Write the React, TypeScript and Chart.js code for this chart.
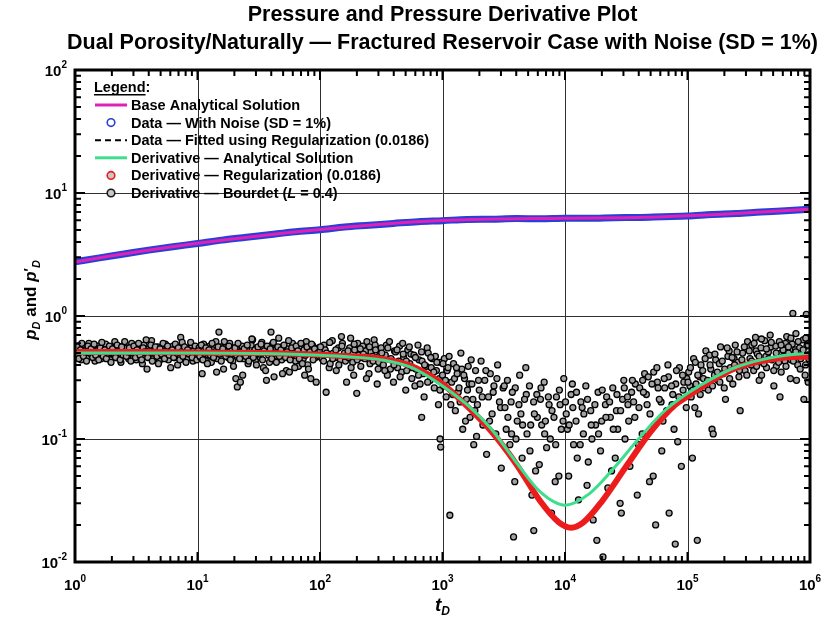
import { useEffect, useRef } from 'react';
import { Chart, registerables } from 'chart.js';

Chart.register(...registerables);

const FONT = '"Liberation Sans", Arial, Helvetica, sans-serif';

const titleLines = [
  'Pressure and Pressure Derivative Plot',
  'Dual Porosity/Naturally — Fractured Reservoir Case with Noise (SD = 1%)',
];
const xTickExponents = [0, 1, 2, 3, 4, 5, 6];
const yTickExponents = [-2, -1, 0, 1, 2];

const legendLabels = [
  'Base Analytical Solution',
  'Data — With Noise (SD = 1%)',
  'Data — Fitted using Regularization (0.0186)',
  'Derivative — Analytical Solution',
  'Derivative — Regularization (0.0186)',
  'Derivative — Bourdet (L = 0.4)',
];

// log10(tD) sample positions and values
const pressureLogT = [0, 0.25, 0.5, 0.75, 1, 1.25, 1.5, 1.75, 2, 2.25, 2.5, 2.75, 3, 3.25, 3.5, 3.75, 4, 4.25, 4.5, 4.75, 5, 5.25, 5.5, 5.75, 6];
const basePressure = [2.75, 3.03, 3.32, 3.61, 3.9, 4.19, 4.48, 4.77, 5.05, 5.32, 5.57, 5.8, 5.98, 6.1, 6.16, 6.2, 6.22, 6.25, 6.3, 6.39, 6.52, 6.7, 6.9, 7.13, 7.38];
const fittedPressure = [2.75, 3.03, 3.32, 3.61, 3.9, 4.19, 4.48, 4.77, 5.05, 5.32, 5.57, 5.8, 5.98, 6.1, 6.16, 6.2, 6.22, 6.25, 6.3, 6.39, 6.52, 6.7, 6.9, 7.13, 7.38];

const noisyLogT = [0, 0.2, 0.4, 0.6, 0.8, 1, 1.2, 1.4, 1.6, 1.8, 2, 2.2, 2.4, 2.6, 2.8, 3, 3.2, 3.4, 3.6, 3.8, 4, 4.2, 4.4, 4.6, 4.8, 5, 5.2, 5.4, 5.6, 5.8, 6];
const noisyPressure = [2.76, 2.97, 3.19, 3.43, 3.66, 3.88, 4.14, 4.36, 4.6, 4.84, 5.03, 5.29, 5.47, 5.66, 5.85, 5.96, 6.1, 6.13, 6.19, 6.18, 6.24, 6.22, 6.3, 6.33, 6.42, 6.5, 6.68, 6.8, 7.0, 7.17, 7.4];

const derivLogT = [0, 0.5, 1, 1.5, 2, 2.25, 2.5, 2.75, 3, 3.2, 3.4, 3.6, 3.8, 4, 4.2, 4.4, 4.6, 4.8, 5, 5.2, 5.4, 5.6, 5.8, 6];
const derivAnalytical = [0.5, 0.5, 0.5, 0.495, 0.48, 0.465, 0.44, 0.38, 0.27, 0.19, 0.12, 0.065, 0.037, 0.029, 0.036, 0.058, 0.1, 0.165, 0.235, 0.31, 0.385, 0.44, 0.48, 0.5];

const regLogT = [0, 0.5, 1, 1.5, 2, 2.25, 2.5, 2.75, 3, 3.2, 3.4, 3.6, 3.8, 3.95, 4.05, 4.15, 4.3, 4.5, 4.7, 4.9, 5, 5.2, 5.4, 5.6, 5.8, 6];
const derivRegularized = [0.51, 0.51, 0.505, 0.5, 0.485, 0.47, 0.45, 0.39, 0.28, 0.185, 0.115, 0.063, 0.031, 0.021, 0.019, 0.021, 0.031, 0.06, 0.115, 0.19, 0.222, 0.3, 0.38, 0.43, 0.46, 0.467];

// Bourdet derivative of noisy data: [log10(tD), p'D]
const bourdetPoints: [number, number][] = [
  [0,0.52],[0.013,0.47],[0.025,0.55],[0.038,0.50],[0.05,0.44],[0.063,0.58],[0.075,0.49],[0.088,0.53],[0.1,0.46],[0.113,0.60],
  [0.125,0.51],[0.138,0.48],[0.15,0.56],[0.163,0.43],[0.175,0.52],[0.188,0.57],[0.2,0.49],[0.213,0.45],[0.225,0.54],[0.238,0.50],
  [0.25,0.59],[0.263,0.47],[0.275,0.52],[0.288,0.44],[0.3,0.55],[0.313,0.49],[0.325,0.62],[0.338,0.46],[0.35,0.51],[0.363,0.53],
  [0.375,0.42],[0.388,0.57],[0.4,0.50],[0.413,0.48],[0.425,0.55],[0.438,0.45],[0.45,0.52],[0.463,0.60],[0.475,0.47],[0.488,0.51],
  [0.5,0.44],[0.513,0.56],[0.525,0.49],[0.538,0.53],[0.55,0.41],[0.563,0.58],[0.575,0.50],[0.588,0.37],[0.6,0.54],[0.613,0.48],
  [0.625,0.63],[0.638,0.45],[0.65,0.52],[0.663,0.49],[0.675,0.56],[0.688,0.43],[0.7,0.51],[0.713,0.55],[0.725,0.47],[0.738,0.59],
  [0.75,0.50],[0.763,0.44],[0.775,0.53],[0.788,0.48],[0.8,0.57],[0.813,0.46],[0.825,0.52],[0.838,0.40],[0.85,0.55],[0.863,0.67],
  [0.875,0.61],[0.888,0.47],[0.9,0.51],[0.913,0.45],[0.925,0.54],[0.938,0.50],[0.95,0.58],[0.963,0.43],[0.975,0.52],[0.988,0.48],
  [0.006,0.49],[0.019,0.56],[0.031,0.45],[0.044,0.53],[0.056,0.60],[0.069,0.47],[0.081,0.51],[0.094,0.43],[0.106,0.57],[0.119,0.50],
  [0.131,0.54],[0.144,0.46],[0.156,0.59],[0.169,0.48],[0.181,0.52],[0.194,0.44],[0.206,0.55],[0.219,0.61],[0.231,0.47],[0.244,0.53],
  [0.256,0.45],[0.269,0.50],[0.281,0.57],[0.294,0.42],[0.306,0.54],[0.319,0.49],[0.331,0.46],[0.344,0.58],[0.356,0.52],[0.369,0.44],
  [0.381,0.56],[0.394,0.48],[0.406,0.62],[0.419,0.47],[0.431,0.51],[0.444,0.55],[0.456,0.43],[0.469,0.50],[0.481,0.57],[0.494,0.46],
  [0.506,0.53],[0.519,0.60],[0.531,0.48],[0.544,0.44],[0.556,0.55],[0.569,0.51],[0.581,0.64],[0.594,0.46],[0.606,0.52],[0.619,0.58],
  [0.631,0.43],[0.644,0.50],[0.656,0.56],[0.669,0.47],[0.681,0.41],[0.694,0.54],[0.706,0.49],[0.719,0.60],[0.731,0.45],[0.744,0.52],
  [0.756,0.57],[0.769,0.48],[0.781,0.38],[0.794,0.53],[0.806,0.46],[0.819,0.59],[0.831,0.50],[0.844,0.55],[0.856,0.44],[0.869,0.51],
  [0.881,0.47],[0.894,0.56],[0.906,0.42],[0.919,0.53],[0.931,0.49],[0.944,0.61],[0.956,0.46],[0.969,0.52],[0.981,0.57],[0.994,0.44],
  [1,0.50],[1.013,0.55],[1.025,0.46],[1.038,0.34],[1.05,0.59],[1.063,0.44],[1.075,0.51],[1.088,0.48],[1.1,0.57],[1.113,0.42],
  [1.125,0.53],[1.138,0.49],[1.15,0.62],[1.163,0.45],[1.175,0.74],[1.188,0.56],[1.2,0.47],[1.213,0.37],[1.225,0.54],[1.238,0.51],
  [1.25,0.46],[1.263,0.60],[1.275,0.49],[1.288,0.43],[1.3,0.55],[1.313,0.31],[1.325,0.265],[1.338,0.52],[1.35,0.29],[1.363,0.57],
  [1.375,0.45],[1.388,0.50],[1.4,0.53],[1.413,0.41],[1.425,0.47],[1.438,0.58],[1.45,0.64],[1.463,0.51],[1.475,0.44],[1.488,0.55],
  [1.5,0.49],[1.513,0.46],[1.525,0.61],[1.538,0.38],[1.55,0.52],[1.563,0.30],[1.575,0.56],[1.588,0.42],[1.6,0.74],[1.613,0.59],
  [1.625,0.32],[1.638,0.53],[1.65,0.47],[1.663,0.66],[1.675,0.51],[1.688,0.44],[1.7,0.57],[1.713,0.49],[1.725,0.36],[1.738,0.54],
  [1.75,0.35],[1.763,0.46],[1.775,0.60],[1.788,0.50],[1.8,0.43],[1.813,0.52],[1.825,0.39],[1.838,0.56],[1.85,0.48],[1.863,0.45],
  [1.875,0.33],[1.888,0.62],[1.9,0.40],[1.913,0.53],[1.925,0.31],[1.938,0.58],[1.95,0.47],[1.963,0.46],[1.975,0.51],[1.988,0.55],
  [1.006,0.52],[1.019,0.47],[1.031,0.58],[1.044,0.44],[1.056,0.50],[1.069,0.55],[1.081,0.41],[1.094,0.53],[1.106,0.48],[1.119,0.60],
  [1.131,0.46],[1.144,0.51],[1.156,0.35],[1.169,0.56],[1.181,0.49],[1.194,0.43],[1.206,0.54],[1.219,0.62],[1.231,0.47],[1.244,0.50],
  [1.256,0.57],[1.269,0.44],[1.281,0.52],[1.294,0.39],[1.306,0.55],[1.319,0.48],[1.331,0.60],[1.344,0.45],[1.356,0.51],[1.369,0.33],
  [1.381,0.54],[1.394,0.47],[1.406,0.58],[1.419,0.43],[1.431,0.50],[1.444,0.65],[1.456,0.46],[1.469,0.53],[1.481,0.40],[1.494,0.56],
  [1.506,0.49],[1.519,0.59],[1.531,0.44],[1.544,0.52],[1.556,0.36],[1.569,0.57],[1.581,0.48],[1.594,0.54],[1.606,0.45],[1.619,0.61],
  [1.631,0.50],[1.644,0.42],[1.656,0.56],[1.669,0.47],[1.681,0.53],[1.694,0.34],[1.706,0.58],[1.719,0.46],[1.731,0.51],[1.744,0.63],
  [1.756,0.44],[1.769,0.55],[1.781,0.49],[1.794,0.38],[1.806,0.57],[1.819,0.52],[1.831,0.45],[1.844,0.60],[1.856,0.41],[1.869,0.53],
  [1.881,0.48],[1.894,0.56],[1.906,0.37],[1.919,0.51],[1.931,0.59],[1.944,0.44],[1.956,0.54],[1.969,0.29],[1.981,0.50],[1.994,0.47],
  [2,0.52],[2.008,0.48],[2.017,0.45],[2.033,0.58],[2.042,0.53],[2.05,0.24],[2.067,0.49],[2.075,0.38],[2.083,0.41],[2.1,0.63],
  [2.108,0.50],[2.117,0.47],[2.133,0.36],[2.142,0.46],[2.15,0.55],[2.167,0.44],[2.175,0.68],[2.183,0.60],[2.2,0.50],[2.208,0.43],
  [2.217,0.29],[2.233,0.46],[2.242,0.55],[2.25,0.66],[2.267,0.42],[2.275,0.33],[2.283,0.53],[2.3,0.235],[2.308,0.60],[2.317,0.48],
  [2.333,0.39],[2.342,0.46],[2.35,0.57],[2.367,0.45],[2.375,0.52],[2.383,0.62],[2.4,0.34],[2.408,0.41],[2.417,0.51],[2.433,0.43],
  [2.442,0.64],[2.45,0.58],[2.467,0.28],[2.475,0.37],[2.483,0.47],
  [2.004,0.56],[2.029,0.43],[2.054,0.50],[2.079,0.61],[2.104,0.45],[2.129,0.53],[2.154,0.40],[2.179,0.57],[2.204,0.47],[2.229,0.52],
  [2.254,0.38],[2.279,0.59],[2.304,0.44],[2.329,0.54],[2.354,0.49],[2.379,0.31],[2.404,0.56],[2.429,0.47],[2.454,0.53],[2.479,0.42],
  [2.5,0.55],[2.508,0.47],[2.517,0.40],[2.533,0.48],[2.542,0.58],[2.55,0.33],[2.567,0.62],[2.575,0.37],[2.583,0.44],[2.6,0.29],
  [2.608,0.52],[2.617,0.51],[2.633,0.38],[2.642,0.43],[2.65,0.57],[2.667,0.35],[2.675,0.60],[2.683,0.46],[2.7,0.25],[2.708,0.36],
  [2.717,0.53],[2.733,0.41],[2.742,0.49],[2.75,0.31],[2.767,0.48],[2.775,0.27],[2.783,0.37],[2.8,0.58],[2.808,0.44],[2.817,0.28],
  [2.83,0.15],[2.833,0.43],[2.842,0.34],[2.85,0.22],[2.867,0.39],[2.875,0.55],[2.883,0.50],[2.9,0.30],[2.908,0.38],[2.917,0.45],
  [2.933,0.26],[2.942,0.47],[2.95,0.36],[2.967,0.19],[2.975,0.31],[2.98,0.10],[2.983,0.42],[2.985,0.086],
  [2.504,0.50],[2.529,0.36],[2.554,0.55],[2.579,0.45],[2.604,0.40],[2.629,0.53],[2.654,0.32],[2.679,0.49],[2.704,0.43],[2.729,0.56],
  [2.754,0.38],[2.779,0.46],[2.804,0.33],[2.829,0.51],[2.854,0.40],[2.879,0.29],[2.904,0.46],[2.929,0.35],[2.954,0.42],[2.979,0.25],
  [3,0.33],[3.008,0.27],[3.015,0.45],[3.03,0.22],[3.038,0.36],[3.045,0.38],[3.06,0.024],[3.068,0.19],[3.075,0.29],[3.09,0.41],
  [3.098,0.31],[3.105,0.17],[3.12,0.34],[3.128,0.24],[3.135,0.26],[3.15,0.50],[3.158,0.37],[3.165,0.12],[3.18,0.31],[3.188,0.14],
  [3.195,0.21],[3.21,0.39],[3.218,0.28],[3.225,0.15],[3.24,0.28],[3.248,0.21],[3.255,0.09],[3.27,0.36],[3.278,0.105],[3.285,0.19],
  [3.3,0.25],[3.315,0.43],[3.33,0.13],[3.345,0.30],[3.36,0.075],[3.375,0.22],[3.39,0.34],[3.405,0.16],[3.42,0.27],[3.435,0.11],
  [3.45,0.40],[3.465,0.20],[3.48,0.058],[3.495,0.26],
  [3.004,0.41],[3.024,0.30],[3.054,0.47],[3.084,0.23],[3.114,0.38],[3.144,0.20],[3.174,0.33],[3.204,0.25],[3.234,0.44],[3.264,0.17],
  [3.294,0.30],[3.324,0.22],[3.354,0.36],[3.384,0.14],[3.414,0.24],[3.444,0.31],[3.474,0.18],[3.504,0.27],[3.534,0.15],[3.564,0.11],
  [3.594,0.26],[3.624,0.19],[3.654,0.13],[3.684,0.23],[3.714,0.08],[3.744,0.20],[3.774,0.15],[3.804,0.26],[3.834,0.11],[3.864,0.22],
  [3.894,0.17],[3.924,0.09],[3.954,0.25],[3.984,0.14],
  [3.51,0.18],[3.52,0.12],[3.53,0.30],[3.55,0.09],[3.56,0.20],[3.57,0.24],[3.58,0.016],[3.59,0.045],[3.6,0.10],[3.61,0.14],
  [3.63,0.33],[3.64,0.16],[3.65,0.07],[3.67,0.21],[3.68,0.38],[3.69,0.11],[3.71,0.27],[3.72,0.13],[3.73,0.035],[3.745,0.018],
  [3.75,0.16],[3.76,0.055],[3.77,0.23],[3.79,0.062],[3.8,0.21],[3.81,0.13],[3.83,0.29],[3.84,0.14],[3.85,0.085],[3.87,0.19],
  [3.88,0.10],[3.89,0.025],[3.91,0.15],[3.92,0.045],[3.93,0.22],[3.95,0.05],[3.96,0.19],[3.97,0.12],[3.99,0.31],
  [4.01,0.16],[4.02,0.12],[4.03,0.05],[4.05,0.23],[4.06,0.28],[4.07,0.09],[4.09,0.14],[4.1,0.07],[4.11,0.032],[4.13,0.20],
  [4.14,0.18],[4.15,0.11],[4.17,0.27],[4.18,0.042],[4.19,0.065],[4.21,0.17],[4.22,0.10],[4.23,0.022],[4.25,0.13],[4.26,0.015],
  [4.27,0.24],[4.29,0.08],[4.3,0.14],[4.31,0.011],[4.33,0.19],[4.34,0.22],[4.35,0.04],[4.37,0.15],[4.38,0.055],[4.39,0.26],
  [4.41,0.07],[4.42,0.17],[4.43,0.12],[4.45,0.03],[4.46,0.025],[4.47,0.21],[4.48,0.30],[4.49,0.10],
  [4.004,0.20],[4.034,0.13],[4.064,0.18],[4.094,0.24],[4.124,0.09],[4.154,0.16],[4.184,0.21],[4.214,0.13],[4.244,0.19],[4.274,0.11],
  [4.304,0.25],[4.334,0.15],[4.364,0.20],[4.394,0.12],[4.424,0.23],[4.454,0.17],[4.484,0.26],[4.514,0.19],[4.544,0.24],[4.574,0.28],
  [4.604,0.18],[4.634,0.30],[4.664,0.23],[4.694,0.16],[4.724,0.35],[4.754,0.29],[4.784,0.20],[4.814,0.26],[4.844,0.32],[4.874,0.19],
  [4.904,0.28],[4.934,0.38],[4.964,0.25],[4.994,0.31],
  [4.51,0.22],[4.52,0.14],[4.53,0.06],[4.55,0.30],[4.56,0.20],[4.57,0.15],[4.59,0.035],[4.6,0.09],[4.61,0.26],[4.63,0.11],
  [4.64,0.24],[4.65,0.34],[4.67,0.19],[4.68,0.32],[4.69,0.045],[4.71,0.28],[4.72,0.05],[4.73,0.13],[4.74,0.02],[4.75,0.38],
  [4.76,0.26],[4.77,0.21],[4.79,0.08],[4.8,0.14],[4.81,0.31],[4.83,0.17],[4.84,0.40],[4.85,0.025],[4.87,0.27],[4.88,0.23],
  [4.89,0.12],[4.9,0.014],[4.91,0.36],[4.92,0.095],[4.93,0.22],[4.95,0.06],[4.96,0.33],[4.97,0.29],[4.99,0.18],
  [5.01,0.35],[5.02,0.27],[5.03,0.22],[5.04,0.07],[5.05,0.45],[5.06,0.18],[5.07,0.28],[5.08,0.015],[5.09,0.16],[5.1,0.32],
  [5.11,0.40],[5.13,0.31],[5.14,0.26],[5.15,0.52],[5.17,0.25],[5.18,0.48],[5.19,0.37],[5.2,0.12],[5.21,0.11],[5.22,0.33],
  [5.23,0.44],[5.25,0.30],[5.26,0.41],[5.27,0.56],[5.29,0.34],[5.3,0.26],[5.31,0.21],[5.33,0.47],[5.34,0.52],[5.35,0.38],
  [5.37,0.28],[5.38,0.45],[5.39,0.58],[5.41,0.42],[5.42,0.32],[5.43,0.17],[5.45,0.50],[5.46,0.40],[5.47,0.36],[5.49,0.62],
  [5.004,0.29],[5.024,0.38],[5.044,0.25],[5.064,0.42],[5.084,0.33],[5.104,0.23],[5.124,0.36],[5.144,0.45],[5.164,0.30],[5.184,0.40],
  [5.204,0.27],[5.224,0.49],[5.244,0.35],[5.264,0.29],[5.284,0.43],[5.304,0.37],[5.324,0.55],[5.344,0.31],[5.364,0.46],[5.384,0.40],
  [5.404,0.51],[5.424,0.36],[5.444,0.44],[5.464,0.56],[5.484,0.33],
  [5.51,0.45],[5.52,0.40],[5.525,0.58],[5.54,0.36],[5.555,0.67],[5.56,0.52],[5.57,0.49],[5.585,0.30],[5.6,0.55],[5.605,0.33],
  [5.615,0.42],[5.63,0.63],[5.64,0.47],[5.645,0.38],[5.66,0.51],[5.675,0.70],[5.68,0.56],[5.69,0.44],[5.705,0.27],[5.72,0.57],
  [5.725,0.39],[5.735,0.48],[5.75,0.62],[5.755,0.22],[5.76,0.50],[5.765,0.35],[5.78,0.53],[5.795,0.43],[5.8,0.60],[5.81,0.68],
  [5.825,0.50],[5.84,0.31],[5.845,0.44],[5.855,0.59],[5.86,1.05],[5.87,0.46],[5.88,0.53],[5.885,0.72],[5.89,0.30],[5.9,0.40],
  [5.915,0.55],[5.92,0.37],[5.93,0.48],[5.945,0.64],[5.95,0.21],[5.96,0.33],[5.965,0.66],[5.97,1.03],[5.975,0.57],[5.985,0.29],
  [5.99,0.45],[5.995,0.60],
  [5.504,0.52],[5.524,0.43],[5.544,0.60],[5.564,0.39],[5.584,0.47],[5.604,0.65],[5.624,0.41],[5.644,0.54],[5.664,0.45],[5.684,0.61],
  [5.704,0.36],[5.724,0.50],[5.744,0.42],[5.764,0.58],[5.784,0.47],[5.804,0.39],[5.824,0.56],[5.844,0.66],[5.864,0.43],[5.884,0.51],
  [5.904,0.62],[5.924,0.45],[5.944,0.53],[5.964,0.40],[5.984,0.58],[5.994,0.49],
];

const COLORS = {
  base: '#e021b8',
  noisy: '#2a3fd6',
  fitted: '#000000',
  analytical: '#3ddf8c',
  regularized: '#ec1c1c',
  bourdetBorder: '#000000',
  bourdetFill: '#a2a2a2',
};

const toPts = (lt: number[], v: number[]) => lt.map((l, i) => ({ x: Math.pow(10, l), y: v[i] }));

type Piece = { text: string; font: string; dy?: number };

function piecesWidth(ctx: CanvasRenderingContext2D, pieces: Piece[]) {
  let w = 0;
  for (const p of pieces) {
    ctx.font = p.font;
    w += ctx.measureText(p.text).width;
  }
  return w;
}

function drawPieces(ctx: CanvasRenderingContext2D, pieces: Piece[], x: number, y: number) {
  let cx = x;
  for (const p of pieces) {
    ctx.font = p.font;
    ctx.fillText(p.text, cx, y + (p.dy || 0));
    cx += ctx.measureText(p.text).width;
  }
  return cx;
}

const decorPlugin = {
  id: 'decor',
  beforeDatasetsDraw(chart: any) {
    const { ctx, chartArea: a, scales } = chart;
    ctx.save();
    ctx.strokeStyle = '#303030';
    ctx.lineWidth = 1;
    ctx.beginPath();
    for (const e of xTickExponents) {
      const p = Math.round(scales.x.getPixelForValue(Math.pow(10, e))) + 0.5;
      ctx.moveTo(p, a.top);
      ctx.lineTo(p, a.bottom);
    }
    for (const e of yTickExponents) {
      const p = Math.round(scales.y.getPixelForValue(Math.pow(10, e))) + 0.5;
      ctx.moveTo(a.left, p);
      ctx.lineTo(a.right, p);
    }
    ctx.stroke();
    ctx.restore();
  },
  afterDraw(chart: any) {
    const { ctx, chartArea: a, scales } = chart;
    const xs = scales.x;
    const ys = scales.y;
    ctx.save();
    ctx.fillStyle = '#000';
    ctx.strokeStyle = '#000';
    ctx.textAlign = 'left';
    ctx.textBaseline = 'alphabetic';

    // ticks (inward, all four sides)
    ctx.lineWidth = 2;
    ctx.beginPath();
    const minorLen = 6;
    const majorLen = 10;
    for (let n = xTickExponents[0]; n <= xTickExponents[xTickExponents.length - 1]; n++) {
      for (let k = 1; k <= 9; k++) {
        const v = k * Math.pow(10, n);
        if (v > xs.max * 1.0001) continue;
        const p = xs.getPixelForValue(v);
        const len = k === 1 ? majorLen : minorLen;
        ctx.moveTo(p, a.bottom);
        ctx.lineTo(p, a.bottom - len);
        ctx.moveTo(p, a.top);
        ctx.lineTo(p, a.top + len);
      }
    }
    for (let n = yTickExponents[0]; n <= yTickExponents[yTickExponents.length - 1]; n++) {
      for (let k = 1; k <= 9; k++) {
        const v = k * Math.pow(10, n);
        if (v > ys.max * 1.0001) continue;
        const p = ys.getPixelForValue(v);
        const len = k === 1 ? majorLen : minorLen;
        ctx.moveTo(a.left, p);
        ctx.lineTo(a.left + len, p);
        ctx.moveTo(a.right, p);
        ctx.lineTo(a.right - len, p);
      }
    }
    ctx.stroke();

    // frame
    ctx.lineWidth = 3;
    ctx.strokeRect(a.left, a.top, a.right - a.left, a.bottom - a.top);

    // tick labels
    const baseFont = `bold 15px ${FONT}`;
    const expFont = `bold 10px ${FONT}`;
    for (const e of xTickExponents) {
      const pieces: Piece[] = [
        { text: '10', font: baseFont },
        { text: String(e), font: expFont, dy: -8 },
      ];
      const w = piecesWidth(ctx, pieces);
      const p = xs.getPixelForValue(Math.pow(10, e));
      drawPieces(ctx, pieces, p - w / 2, 590);
    }
    for (const e of yTickExponents) {
      const pieces: Piece[] = [
        { text: '10', font: baseFont },
        { text: String(e), font: expFont, dy: -8 },
      ];
      const w = piecesWidth(ctx, pieces);
      const p = ys.getPixelForValue(Math.pow(10, e));
      drawPieces(ctx, pieces, 67 - w, p + 6);
    }

    // x-axis title
    const xTitle: Piece[] = [
      { text: 't', font: `italic bold 19px ${FONT}` },
      { text: 'D', font: `italic bold 12px ${FONT}`, dy: 4 },
    ];
    const xtw = piecesWidth(ctx, xTitle);
    drawPieces(ctx, xTitle, (a.left + a.right) / 2 - xtw / 2, 611);

    // y-axis title
    const yTitle: Piece[] = [
      { text: 'p', font: `italic bold 17px ${FONT}` },
      { text: 'D', font: `italic bold 11px ${FONT}`, dy: 4 },
      { text: ' and ', font: `bold 17px ${FONT}` },
      { text: 'p', font: `italic bold 17px ${FONT}` },
      { text: '\u2032', font: `bold 14px ${FONT}`, dy: -2 },
      { text: 'D', font: `italic bold 11px ${FONT}`, dy: 4 },
    ];
    const ytw = piecesWidth(ctx, yTitle);
    ctx.save();
    ctx.translate(30, 300);
    ctx.rotate(-Math.PI / 2);
    drawPieces(ctx, yTitle, -ytw / 2, 6);
    ctx.restore();

    // chart title
    ctx.textAlign = 'center';
    ctx.font = `bold 21.5px ${FONT}`;
    const cx = (a.left + a.right) / 2;
    ctx.fillText(titleLines[0], cx, 21);
    ctx.fillText(titleLines[1], cx, 49);
    ctx.textAlign = 'left';

    // legend
    const lx = 94;
    const legendFont = `bold 14.5px ${FONT}`;
    ctx.font = legendFont;
    ctx.fillText('Legend', lx, 92);
    const lw = ctx.measureText('Legend').width;
    ctx.fillText(':', lx + lw, 92);
    ctx.fillRect(lx, 94, lw, 1.5);

    const textX = 131;
    for (let i = 0; i < legendLabels.length; i++) {
      const by = 110 + 17.6 * i;
      const my = by - 5;
      ctx.save();
      if (i === 0 || i === 3) {
        ctx.strokeStyle = i === 0 ? COLORS.base : COLORS.analytical;
        ctx.lineWidth = 3;
        ctx.beginPath();
        ctx.moveTo(95, my);
        ctx.lineTo(127, my);
        ctx.stroke();
      } else if (i === 2) {
        ctx.strokeStyle = COLORS.fitted;
        ctx.lineWidth = 2;
        ctx.setLineDash([6, 4]);
        ctx.beginPath();
        ctx.moveTo(95, my);
        ctx.lineTo(127, my);
        ctx.stroke();
      } else {
        const stroke = i === 1 ? COLORS.noisy : i === 4 ? COLORS.regularized : '#1a1a1a';
        const fill = i === 1 ? '#ffffff' : '#c8c8c8';
        ctx.beginPath();
        ctx.arc(111, my, 3.8, 0, Math.PI * 2);
        ctx.fillStyle = fill;
        ctx.fill();
        ctx.strokeStyle = stroke;
        ctx.lineWidth = 1.6;
        ctx.stroke();
      }
      ctx.restore();
      ctx.fillStyle = '#000';
      if (i === 5) {
        const parts = legendLabels[i].split('L');
        drawPieces(
          ctx,
          [
            { text: parts[0], font: legendFont },
            { text: 'L', font: `italic bold 14.5px ${FONT}` },
            { text: parts[1], font: legendFont },
          ],
          textX,
          by
        );
      } else {
        ctx.font = legendFont;
        ctx.fillText(legendLabels[i], textX, by);
      }
    }
    ctx.restore();
  },
};

export default function App() {
  const ref = useRef<HTMLCanvasElement | null>(null);
  useEffect(() => {
    if (!ref.current) return;
    const chart = new Chart(ref.current, {
      type: 'scatter',
      data: {
        datasets: [
          {
            label: legendLabels[3],
            data: toPts(derivLogT, derivAnalytical),
            showLine: true,
            borderColor: COLORS.analytical,
            backgroundColor: COLORS.analytical,
            borderWidth: 3,
            pointRadius: 0,
            cubicInterpolationMode: 'monotone',
            order: 1,
          },
          {
            label: legendLabels[4],
            data: toPts(regLogT, derivRegularized),
            showLine: true,
            borderColor: COLORS.regularized,
            backgroundColor: COLORS.regularized,
            borderWidth: 6,
            pointRadius: 0,
            cubicInterpolationMode: 'monotone',
            order: 2,
          },
          {
            label: legendLabels[0],
            data: toPts(pressureLogT, basePressure),
            showLine: true,
            borderColor: COLORS.base,
            backgroundColor: COLORS.base,
            borderWidth: 3,
            pointRadius: 0,
            cubicInterpolationMode: 'monotone',
            order: 3,
          },
          {
            label: legendLabels[2],
            data: toPts(pressureLogT, fittedPressure),
            showLine: true,
            borderColor: COLORS.fitted,
            borderWidth: 1.5,
            borderDash: [6, 4],
            pointRadius: 0,
            cubicInterpolationMode: 'monotone',
            order: 4,
          },
          {
            label: legendLabels[1],
            data: toPts(noisyLogT, noisyPressure),
            showLine: true,
            borderColor: COLORS.noisy,
            backgroundColor: COLORS.noisy,
            borderWidth: 7,
            borderCapStyle: 'round',
            pointRadius: 0,
            cubicInterpolationMode: 'monotone',
            order: 5,
          },
          {
            label: legendLabels[5],
            data: bourdetPoints.map(([l, v]) => ({ x: Math.pow(10, l), y: v })),
            showLine: false,
            pointRadius: 3,
            pointBorderWidth: 1.3,
            pointBorderColor: COLORS.bourdetBorder,
            pointBackgroundColor: COLORS.bourdetFill,
            order: 6,
          },
        ],
      } as any,
      options: {
        responsive: false,
        animation: false,
        devicePixelRatio: 1,
        events: [],
        layout: { padding: { left: 75, right: 15, top: 70, bottom: 68 } },
        scales: {
          x: { type: 'logarithmic', min: 1, max: 1e6, display: false },
          y: { type: 'logarithmic', min: 0.01, max: 100, display: false },
        },
        plugins: {
          legend: { display: false },
          title: { display: false },
          tooltip: { enabled: false },
        },
      } as any,
      plugins: [decorPlugin],
    });
    return () => chart.destroy();
  }, []);
  return (
    <div style={{ position: 'absolute', left: 0, top: 0, width: 825, height: 630, background: '#fff' }}>
      <canvas ref={ref} width={825} height={630} style={{ width: 825, height: 630, display: 'block' }} />
    </div>
  );
}
